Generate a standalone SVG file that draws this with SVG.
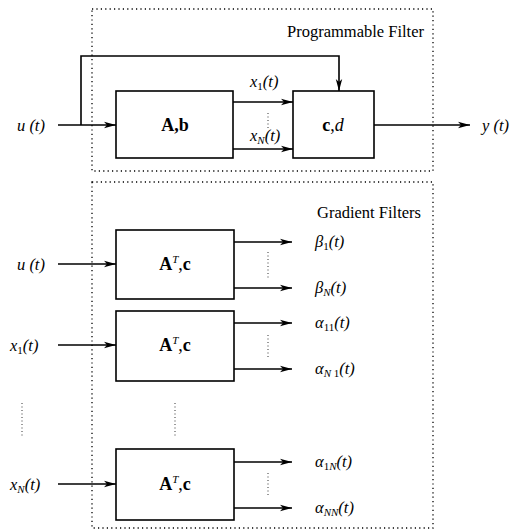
<svg xmlns="http://www.w3.org/2000/svg" width="515" height="531" viewBox="0 0 515 531">
<defs>
<marker id="ah" viewBox="0 0 12 8" refX="12" refY="4" markerWidth="12" markerHeight="8" markerUnits="userSpaceOnUse" orient="auto">
<path d="M0,0.8 L12,4 L0,7.2 L3,4 Z" fill="#000"/>
</marker>
</defs>
<g id="frames" fill="none" stroke="#000" stroke-width="1.3" stroke-dasharray="1.2 3.2">
<rect x="92" y="9" width="341" height="162"/>
<rect x="92" y="182" width="341" height="346"/>
</g>
<g id="connectors" fill="none" stroke="#000" stroke-width="1.6">
<g marker-end="url(#ah)">
<path d="M58,125 H116"/>
<path d="M81,125 V56 H339 V91"/>
<path d="M233,102 H293"/>
<path d="M233,149 H293"/>
<path d="M374,125 H470"/>
<path d="M58,264 H116"/>
<path d="M234,242 H292"/>
<path d="M234,288 H292"/>
<path d="M58,345 H116"/>
<path d="M234,323 H292"/>
<path d="M234,369 H292"/>
<path d="M58,484 H116"/>
<path d="M234,462 H292"/>
<path d="M234,508 H292"/>
</g>
<g stroke-width="0.8" stroke-dasharray="1 2.5">
<path d="M268,113 V128"/>
<path d="M268,252 V278"/>
<path d="M268,335 V358"/>
<path d="M22,403 V438"/>
<path d="M175,403 V438"/>
<path d="M268,473 V497"/>
</g>
</g>
<g font-family="Liberation Serif" fill="#000">
<g id="node-Ab">
<rect x="116" y="91" width="117" height="67" fill="#fff" stroke="#000" stroke-width="1.6"/>
<text x="175" y="131" font-family="Liberation Serif" font-size="18" font-weight="bold" text-anchor="middle">A,b</text>
</g>
<g id="node-cd">
<rect x="293" y="91" width="81" height="67" fill="#fff" stroke="#000" stroke-width="1.6"/>
<text x="333" y="131" font-family="Liberation Serif" font-size="18" text-anchor="middle"><tspan font-weight="bold">c</tspan>,<tspan font-style="italic">d</tspan></text>
</g>
<g id="node-grad1">
<rect x="116" y="230" width="118" height="69" fill="#fff" stroke="#000" stroke-width="1.6"/>
<text x="175" y="270" font-family="Liberation Serif" font-size="18" text-anchor="middle"><tspan font-weight="bold">A</tspan><tspan font-style="italic" font-size="11" dy="-7">T</tspan><tspan dy="7">,</tspan><tspan font-weight="bold">c</tspan></text>
</g>
<g id="node-grad2">
<rect x="116" y="311" width="118" height="70" fill="#fff" stroke="#000" stroke-width="1.6"/>
<text x="175" y="351" font-family="Liberation Serif" font-size="18" text-anchor="middle"><tspan font-weight="bold">A</tspan><tspan font-style="italic" font-size="11" dy="-7">T</tspan><tspan dy="7">,</tspan><tspan font-weight="bold">c</tspan></text>
</g>
<g id="node-gradN">
<rect x="116" y="449" width="118" height="71" fill="#fff" stroke="#000" stroke-width="1.6"/>
<text x="175" y="490" font-family="Liberation Serif" font-size="18" text-anchor="middle"><tspan font-weight="bold">A</tspan><tspan font-style="italic" font-size="11" dy="-7">T</tspan><tspan dy="7">,</tspan><tspan font-weight="bold">c</tspan></text>
</g>
<g id="labels" font-size="16.5">
<text x="424" y="37" font-family="Liberation Serif" text-anchor="end">Programmable Filter</text>
<text x="421" y="218" font-family="Liberation Serif" text-anchor="end">Gradient Filters</text>
<text x="17" y="131" font-family="Liberation Serif" font-style="italic">u (t)</text>
<text x="482" y="131" font-family="Liberation Serif" font-style="italic">y (t)</text>
<text x="250" y="87" font-family="Liberation Serif" font-style="italic">x<tspan font-size="11" dy="3" font-style="normal">1</tspan><tspan dy="-3">(t)</tspan></text>
<text x="250" y="141" font-family="Liberation Serif" font-style="italic">x<tspan font-size="11" dy="3">N</tspan><tspan dy="-3">(t)</tspan></text>
<text x="17" y="270" font-family="Liberation Serif" font-style="italic">u (t)</text>
<text x="10" y="351" font-family="Liberation Serif" font-style="italic">x<tspan font-size="11" dy="3" font-style="normal">1</tspan><tspan dy="-3">(t)</tspan></text>
<text x="10" y="490" font-family="Liberation Serif" font-style="italic">x<tspan font-size="11" dy="3">N</tspan><tspan dy="-3">(t)</tspan></text>
<text x="315" y="247" font-family="Liberation Serif" font-style="italic">β<tspan font-size="11" dy="3" font-style="normal">1</tspan><tspan dy="-3">(t)</tspan></text>
<text x="315" y="293" font-family="Liberation Serif" font-style="italic">β<tspan font-size="11" dy="3">N</tspan><tspan dy="-3">(t)</tspan></text>
<text x="315" y="328" font-family="Liberation Serif" font-style="italic">α<tspan font-size="11" dy="3" font-style="normal">11</tspan><tspan dy="-3">(t)</tspan></text>
<text x="315" y="374" font-family="Liberation Serif" font-style="italic">α<tspan font-size="11" dy="3">N</tspan><tspan font-size="11" font-style="normal"> 1</tspan><tspan dy="-3">(t)</tspan></text>
<text x="315" y="467" font-family="Liberation Serif" font-style="italic">α<tspan font-size="11" dy="3" font-style="normal">1</tspan><tspan font-size="11">N</tspan><tspan dy="-3">(t)</tspan></text>
<text x="315" y="513" font-family="Liberation Serif" font-style="italic">α<tspan font-size="11" dy="3">NN</tspan><tspan dy="-3">(t)</tspan></text>
</g>
</g>
</svg>
